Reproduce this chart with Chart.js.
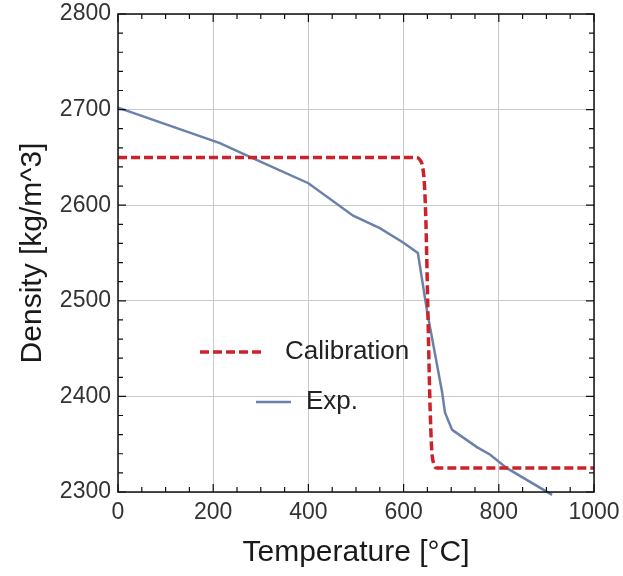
<!DOCTYPE html>
<html>
<head>
<meta charset="utf-8">
<script src="https://cdn.jsdelivr.net/npm/chart.js@4.4.1/dist/chart.umd.min.js"></script>
<style>
  html, body { margin: 0; padding: 0; background: #fff; }
  #wrap { width: 623px; height: 576px; }
</style>
</head>
<body>
<div id="wrap"><canvas id="myChart" width="623" height="576"></canvas></div>
<script>
// values
const calTemp = [0, 625, 635, 640, 644, 647, 651, 655, 659, 663, 670, 1000];
const calDensity = [2650, 2650, 2647, 2640, 2620, 2580, 2490, 2400, 2345, 2330, 2325, 2325];
const expTemp = [0, 214, 284, 400, 494, 550, 599, 630, 649, 681, 687, 702, 754, 782, 817, 912];
const expDensity = [2702, 2665, 2649, 2623, 2589, 2576, 2561, 2550, 2490, 2404, 2383, 2365, 2347, 2339, 2325, 2297];
const xTicks = [0, 200, 400, 600, 800, 1000];
const yTicks = [2300, 2400, 2500, 2600, 2700, 2800];

const FONT = "'Liberation Sans', Arial, sans-serif";

const toPoints = (xs, ys) => xs.map((x, i) => ({ x: x, y: ys[i] }));

// frame, inward ticks and the in-plot legend
const framePlugin = {
    id: 'frame',
    afterDraw(chart) {
        const ctx = chart.ctx;
        const a = chart.chartArea;
        const xs = chart.scales.x, ys = chart.scales.y;
        ctx.save();
        ctx.strokeStyle = '#111';
        ctx.lineWidth = 1.5;
        ctx.strokeRect(a.left, a.top, a.right - a.left, a.bottom - a.top);
        ctx.lineWidth = 1.2;
        ctx.beginPath();
        for (let v = 0; v <= 1000; v += 50) {
            const p = xs.getPixelForValue(v);
            const len = v % 200 === 0 ? 8 : 5;
            ctx.moveTo(p, a.bottom); ctx.lineTo(p, a.bottom - len);
            ctx.moveTo(p, a.top); ctx.lineTo(p, a.top + len);
        }
        for (let v = 2300; v <= 2800; v += 20) {
            const p = ys.getPixelForValue(v);
            const len = v % 100 === 0 ? 8 : 5;
            ctx.moveTo(a.left, p); ctx.lineTo(a.left + len, p);
            ctx.moveTo(a.right, p); ctx.lineTo(a.right - len, p);
        }
        ctx.stroke();

        // legend
        const items = [
            { ds: chart.data.datasets[0], x1: 200, x2: 264, tx: 285, y: 352 },
            { ds: chart.data.datasets[1], x1: 256, x2: 291, tx: 306, y: 402 }
        ];
        ctx.font = '26px ' + FONT;
        ctx.textBaseline = 'middle';
        ctx.textAlign = 'left';
        items.forEach(it => {
            ctx.beginPath();
            ctx.strokeStyle = it.ds.borderColor;
            ctx.lineWidth = it.ds.borderWidth;
            ctx.setLineDash(it.ds.borderDash || []);
            ctx.moveTo(it.x1, it.y); ctx.lineTo(it.x2, it.y);
            ctx.stroke();
            ctx.setLineDash([]);
            ctx.fillStyle = '#222';
            ctx.fillText(it.ds.label, it.tx, it.y);
        });
        ctx.restore();
    }
};

const myChart = document.getElementById('myChart').getContext('2d');
const grafica = new Chart(myChart, {
    type: 'line',
    data: {
        datasets: [{
            label: 'Calibration',
            data: toPoints(calTemp, calDensity),
            borderColor: '#cc2229',
            borderWidth: 3.5,
            borderDash: [9, 4],
            pointRadius: 0,
            cubicInterpolationMode: 'monotone',
            fill: false
        }, {
            label: 'Exp.',
            data: toPoints(expTemp, expDensity),
            borderColor: '#6a82aa',
            borderWidth: 2.5,
            pointRadius: 0,
            tension: 0,
            fill: false,
            clip: 4
        }]
    },
    options: {
        responsive: false,
        animation: false,
        layout: { padding: { top: 14, right: 29, left: 0, bottom: 0 } },
        plugins: {
            legend: { display: false },
            tooltip: { enabled: false }
        },
        scales: {
            x: {
                type: 'linear',
                min: 0,
                max: 1000,
                afterBuildTicks: s => { s.ticks = xTicks.map(v => ({ value: v })); },
                afterFit: s => { s.height = 84; s.paddingLeft = 0; s.paddingRight = 0; },
                grid: { color: '#c9c9c9', lineWidth: 1, drawTicks: false },
                border: { display: false },
                ticks: {
                    font: { size: 23, family: FONT }, color: '#333', padding: 7, maxRotation: 0,
                    callback: v => String(v)
                },
                title: {
                    display: true,
                    text: 'Temperature [°C]',
                    font: { size: 30, family: FONT },
                    color: '#1a1a1a',
                    padding: { top: 0, bottom: 5 }
                }
            },
            y: {
                type: 'linear',
                min: 2300,
                max: 2800,
                afterBuildTicks: s => { s.ticks = yTicks.map(v => ({ value: v })); },
                afterFit: s => { s.width = 118; s.paddingTop = 0; s.paddingBottom = 0; },
                grid: { color: '#c9c9c9', lineWidth: 1, drawTicks: false },
                border: { display: false },
                ticks: {
                    font: { size: 23, family: FONT }, color: '#333', padding: 7,
                    callback: v => String(v)
                },
                title: {
                    display: true,
                    text: 'Density [kg/m^3]',
                    font: { size: 30, family: FONT },
                    color: '#1a1a1a',
                    padding: { top: 15, bottom: 4 }
                }
            }
        }
    },
    plugins: [framePlugin]
});
</script>
</body>
</html>
